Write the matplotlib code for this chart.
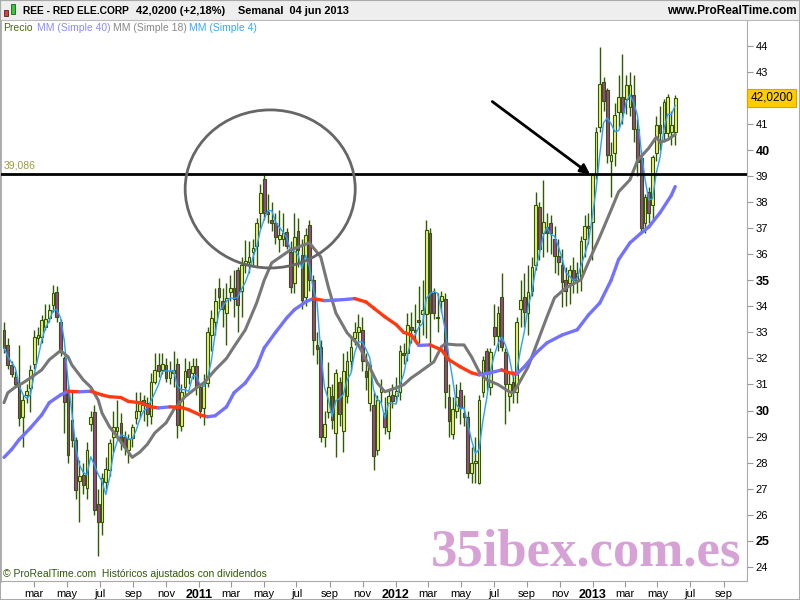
import numpy as np
import pandas as pd
import matplotlib
matplotlib.use('Agg')
import matplotlib.pyplot as plt
from matplotlib.patches import Ellipse, Rectangle
from matplotlib.collections import LineCollection
import matplotlib.transforms as mtransforms

plt.rcParams['font.family'] = ['Liberation Sans', 'DejaVu Sans']

# velas semanales REE (ene 2010 - jun 2013)
opens = [33.1, 32.5, 31.75, 31.3, 31.0, 29.75, 30.6, 30.87, 31.8, 32.8,
         32.83, 33.2, 33.56, 34.06, 34.56, 33.4, 32.0, 30.8, 29.64, 28.88,
         27.3, 27.53, 27.03, 29.5, 29.95, 26.42, 25.73, 27.26, 27.7, 29.0,
         29.2, 29.53, 29.0, 28.5, 28.95, 29.7, 30.0, 30.4, 30.3, 29.8,
         31.1, 31.75, 31.56, 31.75, 31.25, 31.45, 31.8, 29.4, 30.9, 31.6,
         31.45, 31.7, 30.9, 30.1, 31.05, 32.9, 33.4, 34.7, 34.2, 33.75,
         34.55, 34.7, 35.4, 34.6, 35.6, 35.7, 36.1, 36.3, 37.6, 38.9,
         37.6, 37.3, 37.2, 36.6, 36.6, 36.85, 36.1, 34.9, 36.9, 35.98,
         34.36, 37.13, 35.0, 32.5, 32.45, 29.0, 29.95, 30.55, 29.15, 31.1,
         29.2, 30.55, 31.9, 32.8, 33.0, 33.1, 31.5, 30.3, 30.2, 28.5,
         30.7, 29.9, 29.2, 30.6, 30.55, 30.7, 32.2, 32.2, 33.2, 33.1,
         33.45, 33.7, 33.7, 36.8, 34.5, 33.6, 34.2, 34.3, 30.5, 29.1,
         30.0, 30.8, 29.9, 29.75, 27.6, 28.0, 27.2, 30.7, 32.3, 30.9,
         33.2, 32.85, 34.35, 32.25, 30.55, 31.1, 30.7, 33.9, 34.35, 33.75,
         34.6, 35.6, 37.8, 36.8, 37.05, 37.2, 36.6, 35.95, 35.6, 35.0,
         34.9, 35.4, 35.0, 35.1, 36.6, 37.1, 37.25, 39.1, 40.9, 42.6,
         42.3, 39.6, 39.9, 41.45, 42.05, 41.95, 41.65, 42.1, 40.8, 39.7,
         37.2, 38.4, 37.9, 39.9, 40.95, 40.65, 40.65, 40.7, 40.7]
highs = [33.4, 32.8, 31.9, 31.5, 32.5, 30.6, 31.0, 31.75, 33.1, 33.2,
         33.67, 34.1, 34.1, 34.83, 34.8, 33.5, 32.1, 31.0, 30.8, 29.0,
         28.1, 28.0, 28.8, 30.0, 30.2, 27.0, 27.6, 28.2, 28.9, 30.0,
         30.4, 29.9, 29.2, 29.1, 29.5, 30.7, 30.7, 30.6, 30.5, 31.44,
         32.2, 32.2, 32.2, 32.0, 31.9, 32.3, 32.0, 31.0, 32.0, 31.9,
         32.0, 32.0, 31.0, 31.4, 33.2, 33.87, 34.7, 35.1, 34.7, 34.9,
         35.2, 35.4, 35.5, 35.9, 36.55, 36.5, 36.6, 37.4, 38.7, 39.05,
         38.3, 38.0, 37.6, 37.7, 37.6, 37.0, 36.5, 37.6, 37.4, 36.6,
         37.0, 37.3, 35.2, 33.0, 32.7, 30.0, 31.87, 31.0, 31.6, 31.3,
         32.2, 32.3, 32.8, 33.4, 33.7, 33.6, 32.2, 31.9, 30.7, 30.6,
         31.2, 30.5, 30.8, 31.0, 31.3, 32.5, 32.6, 33.74, 33.8, 34.1,
         34.8, 35.0, 37.3, 37.0, 34.7, 34.5, 34.6, 34.5, 31.0, 30.5,
         31.0, 31.1, 30.6, 30.0, 28.6, 29.0, 30.6, 32.1, 32.4, 32.4,
         34.1, 34.0, 35.3, 32.4, 31.5, 31.5, 33.6, 35.0, 35.3, 35.6,
         35.9, 38.4, 38.0, 38.85, 37.6, 37.5, 37.1, 36.6, 36.2, 35.5,
         35.6, 35.9, 35.7, 36.7, 37.5, 37.6, 39.1, 40.9, 43.97, 42.8,
         42.4, 40.3, 41.8, 42.9, 43.7, 42.9, 43.0, 42.9, 41.2, 40.0,
         38.3, 38.6, 39.8, 41.3, 41.7, 41.95, 42.15, 41.5, 42.1]
lows = [32.2, 31.6, 31.3, 30.9, 29.4, 28.6, 30.3, 29.95, 31.6, 32.5,
        32.6, 33.1, 33.4, 33.8, 33.4, 32.1, 29.14, 28.0, 28.6, 26.6,
        25.73, 26.8, 26.6, 29.2, 26.0, 24.4, 25.2, 27.0, 27.5, 28.4,
        28.9, 28.5, 28.3, 28.0, 28.6, 29.5, 29.7, 29.6, 29.4, 29.5,
        31.0, 31.3, 31.4, 31.1, 31.0, 30.9, 28.95, 29.2, 30.6, 31.0,
        31.2, 30.6, 29.7, 29.45, 30.9, 32.3, 32.9, 33.9, 33.2, 32.5,
        34.2, 33.6, 33.0, 33.6, 35.3, 35.3, 35.5, 35.5, 37.0, 37.3,
        37.2, 36.9, 36.4, 36.1, 36.3, 36.2, 34.5, 34.5, 35.5, 33.9,
        34.0, 34.6, 32.14, 31.8, 28.8, 28.6, 29.7, 29.3, 28.2, 29.4,
        28.4, 30.3, 31.5, 32.5, 32.6, 31.5, 30.8, 30.0, 27.72, 28.3,
        30.3, 29.1, 28.9, 30.1, 30.3, 30.4, 31.8, 31.9, 32.6, 32.7,
        32.6, 32.9, 32.8, 31.87, 33.5, 33.0, 33.8, 30.1, 29.0, 28.9,
        29.7, 29.5, 29.4, 27.4, 27.2, 27.2, 27.19, 30.5, 30.8, 30.6,
        32.5, 32.3, 32.3, 29.5, 30.0, 30.3, 30.3, 33.2, 33.2, 32.9,
        34.4, 35.4, 35.8, 35.9, 36.1, 36.0, 35.3, 35.2, 33.98, 34.0,
        34.1, 34.5, 34.5, 34.6, 35.9, 36.4, 35.8, 38.9, 40.7, 41.5,
        39.5, 38.2, 39.4, 40.9, 41.0, 41.4, 41.3, 40.3, 39.0, 36.9,
        36.8, 37.2, 37.3, 39.6, 40.0, 40.3, 40.5, 40.2, 40.2]
closes = [32.4, 31.75, 31.4, 31.0, 29.7, 30.4, 30.75, 31.56, 32.83, 32.9,
          33.48, 33.5, 33.87, 34.52, 33.6, 32.25, 30.33, 28.3, 28.88, 26.96,
          27.5, 27.15, 28.5, 29.75, 26.19, 25.73, 27.42, 27.76, 28.76, 29.38,
          29.35, 28.76, 28.6, 28.9, 29.38, 30.0, 30.35, 30.2, 29.85, 31.1,
          31.56, 31.5, 31.8, 31.25, 31.5, 31.55, 29.45, 30.7, 31.5, 31.3,
          31.7, 30.9, 30.0, 31.1, 33.0, 33.55, 34.2, 34.35, 33.9, 34.33,
          34.7, 34.3, 34.05, 35.6, 35.75, 35.9, 36.25, 37.2, 38.35, 37.6,
          37.55, 37.2, 36.65, 36.75, 36.8, 36.3, 34.75, 36.67, 36.17, 34.25,
          36.74, 35.0, 32.7, 32.35, 29.0, 29.5, 30.9, 29.65, 31.45, 29.85,
          31.5, 31.9, 32.45, 33.0, 33.2, 31.9, 31.3, 31.75, 28.25, 30.4,
          30.85, 29.35, 30.55, 30.35, 30.75, 32.3, 32.15, 33.3, 33.1, 33.0,
          33.4, 33.85, 36.95, 33.75, 33.75, 33.55, 34.4, 30.7, 29.6, 30.05,
          30.5, 30.1, 29.75, 27.6, 28.0, 28.05, 30.4, 31.95, 31.4, 32.25,
          32.85, 33.75, 32.45, 31.0, 31.0, 30.7, 33.4, 34.25, 33.8, 34.55,
          35.5, 37.9, 36.2, 37.25, 36.8, 36.8, 35.95, 35.7, 34.95, 34.6,
          35.4, 35.0, 35.3, 36.5, 37.1, 37.0, 39.05, 40.7, 42.55, 41.9,
          39.8, 39.8, 41.35, 42.05, 41.45, 42.5, 42.5, 40.8, 39.55, 37.0,
          38.2, 37.6, 39.75, 40.95, 40.65, 41.85, 42.05, 40.95, 42.02]

# medias moviles 40 y 18 (semana, valor)
ma40_week = [0, 2, 4, 7, 10, 12, 15, 17, 20, 23, 26, 28, 31, 33, 36, 39, 41, 44,
             47, 49, 52, 54, 56, 59, 61, 64, 67, 69, 72, 75, 77, 80, 82, 85, 88,
             91, 93, 96, 98, 101, 104, 106, 108, 110, 113, 116, 118, 121, 124,
             126, 129, 132, 134, 136, 138, 141, 144, 148, 152, 155, 158, 161,
             163, 166, 169, 171, 174, 177, 178]
ma40_val = [28.2, 28.5, 28.88, 29.33, 29.83, 30.3, 30.6, 30.74, 30.72, 30.74,
            30.6, 30.53, 30.5, 30.35, 30.3, 30.14, 30.1, 30.14, 30.12, 30.03,
            29.83, 29.76, 29.8, 30.14, 30.68, 31.06, 31.68, 32.4, 33.0, 33.56,
            33.87, 34.17, 34.3, 34.22, 34.24, 34.27, 34.3, 34.17, 33.94, 33.6,
            33.3, 33.0, 32.9, 32.5, 32.52, 32.33, 31.95, 31.68, 31.45, 31.37,
            31.45, 31.56, 31.45, 31.4, 31.68, 32.2, 32.6, 32.9, 33.1, 33.67,
            34.13, 35.0, 35.8, 36.44, 36.82, 37.05, 37.6, 38.27, 38.6]
ma18_week = [0, 1, 3, 5, 7, 10, 12, 15, 17, 18, 21, 23, 25, 26, 28, 30, 32, 34,
             36, 38, 40, 43, 45, 48, 51, 53, 56, 59, 61, 64, 67, 69, 71, 76, 81,
             84, 86, 88, 91, 94, 96, 99, 101, 104, 106, 108, 110, 114, 116, 117,
             120, 122, 124, 126, 128, 131, 134, 135, 136, 139, 142, 144, 146,
             149, 153, 155, 158, 161, 163, 166, 168, 171, 173, 174, 176, 178]
ma18_val = [30.3, 30.68, 30.9, 31.06, 31.25, 31.56, 31.95, 32.3, 32.06, 31.75,
            31.18, 30.9, 30.4, 29.9, 29.37, 29.0, 28.6, 28.2, 28.4, 28.7,
            29.14, 29.53, 30.03, 30.53, 30.87, 31.06, 31.56, 32.0, 32.45, 33.1,
            34.13, 35.0, 35.67, 36.17, 36.44, 35.9, 34.75, 33.75, 32.98, 32.52,
            31.95, 31.06, 30.72, 30.87, 30.99, 31.25, 31.45, 31.87, 32.45, 32.56,
            32.52, 32.52, 32.06, 31.49, 31.18, 31.0, 30.72, 30.68, 30.9, 31.68,
            32.83, 33.6, 34.33, 34.71, 35.02, 35.7, 36.67, 37.7, 38.4, 38.86,
            39.6, 40.08, 40.5, 40.3, 40.4, 40.6]

y_ticks = list(range(24, 45))
nivel = 39.086

# anotaciones (posiciones en semanas / precio)
CIRC_CENTER = (70.6, 38.51)
CIRC_W, CIRC_H = 45.1, 6.07
ARROW_FROM = (128.9, 41.93)
ARROW_TO = (156.0, 39.01)

start = pd.Timestamp('2010-01-04')
n = len(closes)
weeks = np.arange(n)
o = np.array(opens); h = np.array(highs); l = np.array(lows); c = np.array(closes)
ma4 = pd.Series(c).rolling(4, min_periods=1).mean().values

fig = plt.figure(figsize=(8, 6), dpi=100)
ax = fig.add_axes([0.0, 0.032, 0.934, 0.933])
ax.set_xlim(-1.06, 197.1)
ax.set_ylim(23.46, 44.96)

# velas
edge = '#2f5a00'
up = c >= o
ax.vlines(weeks, l, h, color=edge, lw=1, zorder=2)
body_lo = np.minimum(o, c)
body_h = np.maximum(np.abs(c - o), 0.06)
ax.bar(weeks, body_h, bottom=body_lo, width=0.72,
       color=np.where(up, '#f0f07a', '#a43ea4'), edgecolor=edge, lw=0.8, zorder=3)

# medias
ax.plot(weeks, ma4, color='#2aa0ff', lw=1.0, zorder=4)
ax.plot(ma18_week, ma18_val, color='#777777', lw=2.2, zorder=5, solid_capstyle='round')
pts = np.column_stack([ma40_week, ma40_val])
segs = np.stack([pts[:-1], pts[1:]], axis=1)
cols = ['#ff3a10' if b < a else '#7272ff' for a, b in zip(ma40_val[:-1], ma40_val[1:])]
ax.add_collection(LineCollection(segs, colors=cols, lw=2.4, zorder=5, capstyle='round'))

# nivel horizontal y anotaciones
ax.axhline(nivel, color='black', lw=2, zorder=6)
ax.text(0.005, nivel + 0.12, '39,086', transform=mtransforms.blended_transform_factory(ax.transAxes, ax.transData),
        color='#9a9a3a', fontsize=7.5, va='bottom', ha='left')
ax.add_patch(Ellipse(CIRC_CENTER, CIRC_W, CIRC_H, fill=False, ec='#666666', lw=2, zorder=7))
ax.annotate('', xy=ARROW_TO, xytext=ARROW_FROM,
            arrowprops=dict(arrowstyle='-|>', color='black', lw=2, mutation_scale=14), zorder=7)

# marca de agua y textos dentro del grafico
ax.text(0.576, 0.028, '35ibex.com.es', transform=ax.transAxes, fontsize=38, fontweight='bold',
        family='Liberation Serif', color='#d6a2d6', va='baseline', ha='left', zorder=1)
ax.text(0.004, 0.004, '© ProRealTime.com  Históricos ajustados con dividendos', transform=ax.transAxes,
        fontsize=7.5, color='#2f5a00', va='bottom', ha='left')

# eje y a la derecha (el 42 queda tapado por la etiqueta del precio)
ax.yaxis.tick_right()
ax.set_yticks(y_ticks)
ax.set_yticklabels(['' if v == 42 else str(v) for v in y_ticks])
for v, lab in zip(y_ticks, ax.get_yticklabels()):
    if v % 5 == 0:
        lab.set_fontweight('bold')
        lab.set_fontsize(9)
    else:
        lab.set_fontsize(8)
ax.tick_params(axis='y', length=4, color='#999999', pad=2, direction='out')

# eje x: meses alternos, enero con el anio
xt, xl = [], []
for m in pd.date_range('2010-03-01', '2013-09-01', freq='2MS'):
    xt.append((m - start).days / 7.0)
    xl.append(str(m.year) if m.month == 1 else m.strftime('%b').lower())
ax.set_xticks(xt)
ax.set_xticklabels(xl)
for lab in ax.get_xticklabels():
    if lab.get_text().isdigit():
        lab.set_fontweight('bold')
        lab.set_fontsize(9)
    else:
        lab.set_fontsize(8)
ax.tick_params(axis='x', length=4, color='#999999', pad=2, direction='out')

ax.spines['top'].set_visible(False)
for s in ['left', 'right', 'bottom']:
    ax.spines[s].set_color('#aaaaaa')
ax.spines['left'].set_linewidth(2)

# etiqueta de precio actual
ax.text(1.004, closes[-1], '42,0200', transform=mtransforms.blended_transform_factory(ax.transAxes, ax.transData),
        fontsize=8.5, va='center', ha='left',
        bbox=dict(boxstyle='square,pad=0.25', fc='#ffcc00', ec='#d9a300', lw=0.8))

# cabecera
fig.patches.append(Rectangle((0, 1 - 20 / 600), 1, 20 / 600, transform=fig.transFigure,
                             fc='#eeeeee', ec='#bbbbbb', lw=0.8, zorder=0))
fig.patches.append(Rectangle((4 / 800, 1 - 16 / 600), 4 / 800, 6 / 600, transform=fig.transFigure,
                             fc='#d94040', ec='#552222', lw=0.6))
fig.patches.append(Rectangle((11 / 800, 1 - 14 / 600), 4 / 800, 10 / 600, transform=fig.transFigure,
                             fc='#33cc33', ec='#225522', lw=0.6))
hy = 1 - 10.5 / 600
fig.text(23 / 800, hy, 'REE - RED ELE.CORP', fontsize=7.4, fontweight='bold', va='center')
fig.text(136 / 800, hy, '42,0200 (+2,18%)', fontsize=8, fontweight='bold', va='center')
fig.text(238 / 800, hy, 'Semanal  04 jun 2013', fontsize=7.9, fontweight='bold', va='center')
fig.text(797 / 800, hy, 'www.ProRealTime.com', fontsize=8.5, fontweight='bold', va='center', ha='right')

ly = 1 - 28 / 600
fig.text(3 / 800, ly, 'Precio', fontsize=7.5, color='#4a6a10', va='center')
fig.text(37 / 800, ly, 'MM (Simple 40)', fontsize=7.5, color='#8a8aff', va='center')
fig.text(113 / 800, ly, 'MM (Simple 18)', fontsize=7.5, color='#888888', va='center')
fig.text(189 / 800, ly, 'MM (Simple 4)', fontsize=7.5, color='#3aa8ff', va='center')

fig.patches.append(Rectangle((0, 0), 1, 1, transform=fig.transFigure, fill=False, ec='#aaaaaa', lw=1.5))

fig.savefig('out.png', dpi=100)
